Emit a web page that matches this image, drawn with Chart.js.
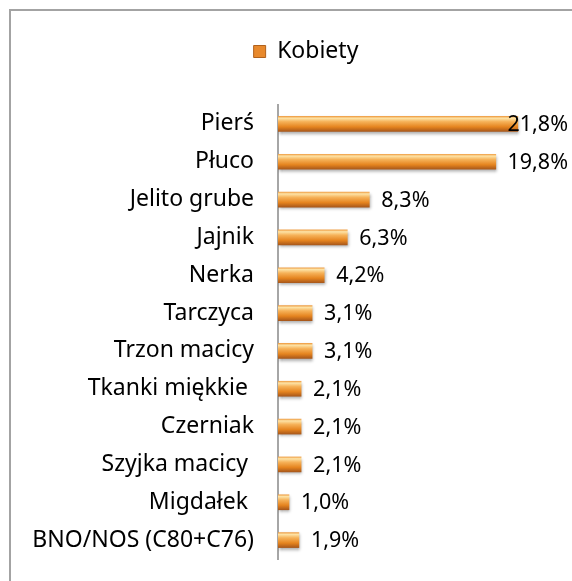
<!DOCTYPE html>
<html>
<head>
<meta charset="utf-8">
<script src="https://cdn.jsdelivr.net/npm/chart.js@4"></script>
<style>
  body { margin: 0; background: #fff; }
  #wrap { position: relative; width: 572px; height: 581px; }
  #frame { position: absolute; left: 9px; top: 9px; right: 0; bottom: 0;
           border-left: 2px solid #a3a3a3; border-top: 2px solid #a3a3a3; }
  canvas { position: absolute; left: 0; top: 0; }
</style>
</head>
<body>
<div id="wrap">
  <div id="frame"></div>
  <canvas id="myChart" width="572" height="581"></canvas>
</div>
<script>
// Kobiety - udział nowotworów
var categories = ['Pierś', 'Płuco', 'Jelito grube', 'Jajnik', 'Nerka', 'Tarczyca', 'Trzon macicy',
    'Tkanki miękkie ', 'Czerniak', 'Szyjka macicy ', 'Migdałek ', 'BNO/NOS (C80+C76)'];
var values = [21.8, 19.8, 8.3, 6.3, 4.2, 3.1, 3.1, 2.1, 2.1, 2.1, 1.0, 1.9];
var seriesName = 'Kobiety';

var FONT = '"Noto Sans", "Open Sans", sans-serif';
var FSIZE = 23;
var VSIZE = 21.5;
var BAR_H = 15;

function barGradient(c) {
    var chart = c.chart;
    var y = chart.scales.y;
    if (!y || c.dataIndex == null) return '#E8892C';
    var cy = y.getPixelForValue(c.dataIndex);
    var g = chart.ctx.createLinearGradient(0, cy - BAR_H / 2, 0, cy + BAR_H / 2);
    g.addColorStop(0, '#f0a24a');
    g.addColorStop(0.12, '#fde3a6');
    g.addColorStop(0.35, '#f6b259');
    g.addColorStop(0.7, '#e5841f');
    g.addColorStop(1, '#a9581a');
    return g;
}

var shadowPlugin = {
    id: 'shadow',
    beforeDatasetsDraw: function (chart) {
        var ctx = chart.ctx;
        ctx.save();
        ctx.shadowColor = 'rgba(0,0,0,0.35)';
        ctx.shadowOffsetX = 1;
        ctx.shadowOffsetY = 2;
        ctx.shadowBlur = 3;
    },
    afterDatasetsDraw: function (chart) {
        chart.ctx.restore();
        // value labels
        var ctx = chart.ctx;
        var meta = chart.getDatasetMeta(0);
        ctx.save();
        ctx.font = VSIZE + 'px ' + FONT;
        ctx.fillStyle = '#000';
        ctx.textBaseline = 'middle';
        meta.data.forEach(function (bar, i) {
            var txt = values[i].toFixed(1).replace('.', ',') + '%';
            var w = ctx.measureText(txt).width;
            var x = Math.min(bar.x + 12, 568 - w);
            ctx.fillText(txt, x, bar.y + 1);
        });
        ctx.restore();
    }
};

// extra room under the legend, and move it a bit to the right
var legendSpace = {
    id: 'legendSpace',
    beforeInit: function (chart) {
        var fit = chart.legend.fit;
        chart.legend.fit = function () {
            fit.bind(chart.legend)();
            this.height += 32;
        };
    },
    afterLayout: function (chart) {
        chart.legend.left += 30;
        chart.legend.right += 30;
    }
};

var ctx = document.getElementById('myChart');
var myChart = new Chart(ctx, {
    type: 'bar',
    data: {
        labels: categories,
        datasets: [{
            label: seriesName,
            data: values,
            backgroundColor: barGradient,
            borderWidth: 0,
            barThickness: BAR_H
        }]
    },
    options: {
        indexAxis: 'y',
        responsive: false,
        animation: false,
        layout: { padding: { left: 10, right: 30, top: 32, bottom: 22 } },
        plugins: {
            tooltip: { enabled: false },
            legend: {
                position: 'top',
                labels: {
                    color: '#000',
                    font: { family: FONT, size: FSIZE },
                    boxWidth: 12,
                    boxHeight: 12,
                    padding: 8,
                    generateLabels: function () {
                        return [{ text: seriesName, fillStyle: '#E8892C', strokeStyle: '#b0611c',
                                  lineWidth: 1, datasetIndex: 0 }];
                    }
                }
            }
        },
        scales: {
            x: { display: false, min: 0, max: 24 },
            y: {
                grid: { display: false },
                border: { display: true, color: '#a6a6a6', width: 2 },
                ticks: { color: '#000', font: { family: FONT, size: FSIZE }, padding: 16 },
                afterFit: function (s) {
                    s.width = 268;
                    s.paddingTop = 0;
                    s.paddingBottom = 0;
                }
            }
        }
    },
    plugins: [shadowPlugin, legendSpace]
});
myChart.update('none');
</script>
</body>
</html>
